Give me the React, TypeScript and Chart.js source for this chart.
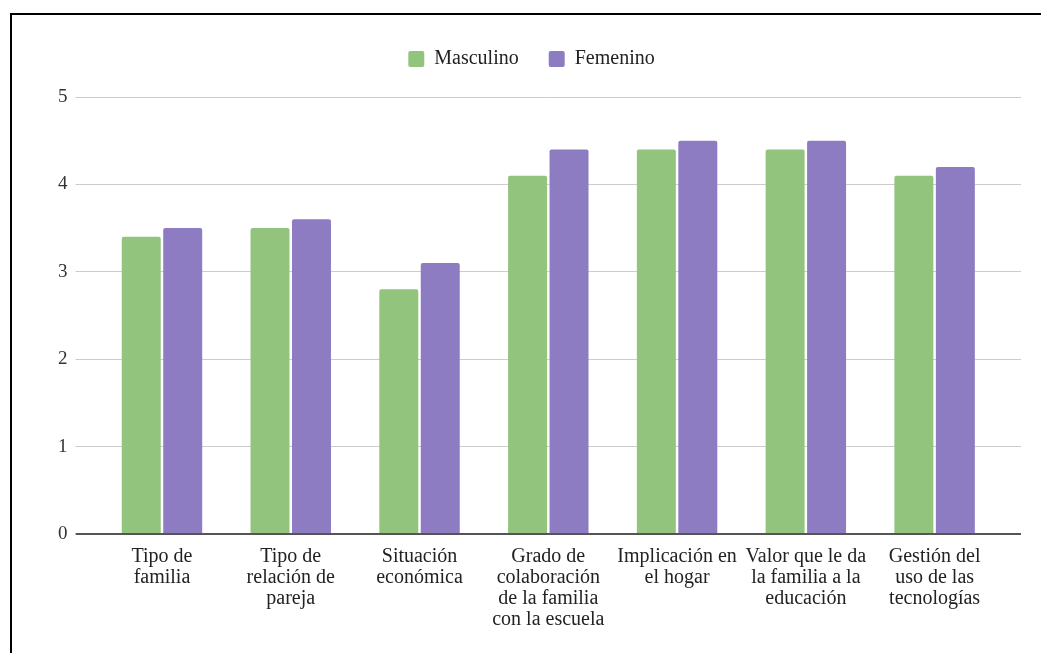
import React, { useEffect, useRef } from "react";
import { Chart, registerables } from "chart.js";

Chart.register(...registerables);

const categories: string[][] = [
  ["Tipo de", "familia"],
  ["Tipo de", "relación de", "pareja"],
  ["Situación", "económica"],
  ["Grado de", "colaboración", "de la familia", "con la escuela"],
  ["Implicación en", "el hogar"],
  ["Valor que le da", "la familia a la", "educación"],
  ["Gestión del", "uso de las", "tecnologías"],
];

const masculino: number[] = [3.4, 3.5, 2.8, 4.1, 4.4, 4.4, 4.1];
const femenino: number[] = [3.5, 3.6, 3.1, 4.4, 4.5, 4.5, 4.2];

const seriesNames = ["Masculino", "Femenino"];
const seriesColors = ["#93c47d", "#8e7cc3"];

const yMin = 0;
const yMax = 5;
const yStep = 1;

const FONT = "'Liberation Serif', 'Times New Roman', serif";

const legendSpacer = {
  id: "legendSpacer",
  beforeInit(chart: any) {
    const legend = chart.legend;
    if (!legend) return;
    const fit = legend.fit;
    legend.fit = function () {
      fit.call(this);
      this.height += 18;
    };
  },
};

export default function App() {
  const canvasRef = useRef<HTMLCanvasElement | null>(null);

  useEffect(() => {
    if (!canvasRef.current) return;
    const gridColor = (ctx: any) =>
      ctx.tick && ctx.tick.value === 0 ? "#555555" : "#cccccc";
    const gridWidth = (ctx: any) => (ctx.tick && ctx.tick.value === 0 ? 2 : 1);

    const chart = new Chart(canvasRef.current, {
      type: "bar",
      data: {
        labels: categories,
        datasets: [
          {
            label: seriesNames[0],
            data: masculino,
            backgroundColor: seriesColors[0],
            borderRadius: 2,
            barPercentage: 0.94,
            categoryPercentage: 0.644,
          },
          {
            label: seriesNames[1],
            data: femenino,
            backgroundColor: seriesColors[1],
            borderRadius: 2,
            barPercentage: 0.94,
            categoryPercentage: 0.644,
          },
        ],
      },
      plugins: [legendSpacer],
      options: {
        animation: false,
        responsive: true,
        maintainAspectRatio: false,
        layout: { padding: { left: 30, right: 20, top: 4, bottom: 11 } },
        font: { family: FONT },
        plugins: {
          tooltip: { enabled: false },
          legend: {
            position: "top",
            labels: {
              boxWidth: 16,
              boxHeight: 16,
              padding: 30,
              color: "#222222",
              font: { family: FONT, size: 20 },
              useBorderRadius: true,
              borderRadius: 2,
            },
          },
        },
        scales: {
          x: {
            grid: { display: false, drawTicks: false },
            border: { display: false },
            ticks: {
              autoSkip: false,
              maxRotation: 0,
              minRotation: 0,
              padding: 12,
              color: "#222222",
              font: { family: FONT, size: 20, lineHeight: 1.05 },
            },
          },
          y: {
            position: "left",
            min: yMin,
            max: yMax,
            border: { display: false },
            grid: {
              color: gridColor,
              lineWidth: gridWidth,
              drawTicks: true,
              tickLength: 22,
            },
            ticks: {
              stepSize: yStep,
              padding: 8,
              color: "#333333",
              font: { family: FONT, size: 19 },
            },
            afterFit: (scale: any) => {
              scale.width = 55.6;
            },
          },
          y2: {
            position: "right",
            min: yMin,
            max: yMax,
            border: { display: false },
            grid: {
              color: gridColor,
              lineWidth: gridWidth,
              drawOnChartArea: false,
              drawTicks: true,
              tickLength: 22,
            },
            ticks: { stepSize: yStep, display: false },
          },
        },
      },
    });
    return () => chart.destroy();
  }, []);

  return (
    <div
      style={{
        position: "fixed",
        inset: 0,
        overflow: "hidden",
        background: "#ffffff",
      }}
    >
      <div
        style={{
          position: "absolute",
          left: 10,
          top: 13,
          width: 1100,
          height: 720,
          borderTop: "2px solid #000",
          borderLeft: "2px solid #000",
        }}
      >
        <div
          style={{
            position: "absolute",
            left: 0,
            top: 0,
            width: 1029,
            height: 638,
          }}
        >
          <canvas ref={canvasRef} />
        </div>
      </div>
    </div>
  );
}
